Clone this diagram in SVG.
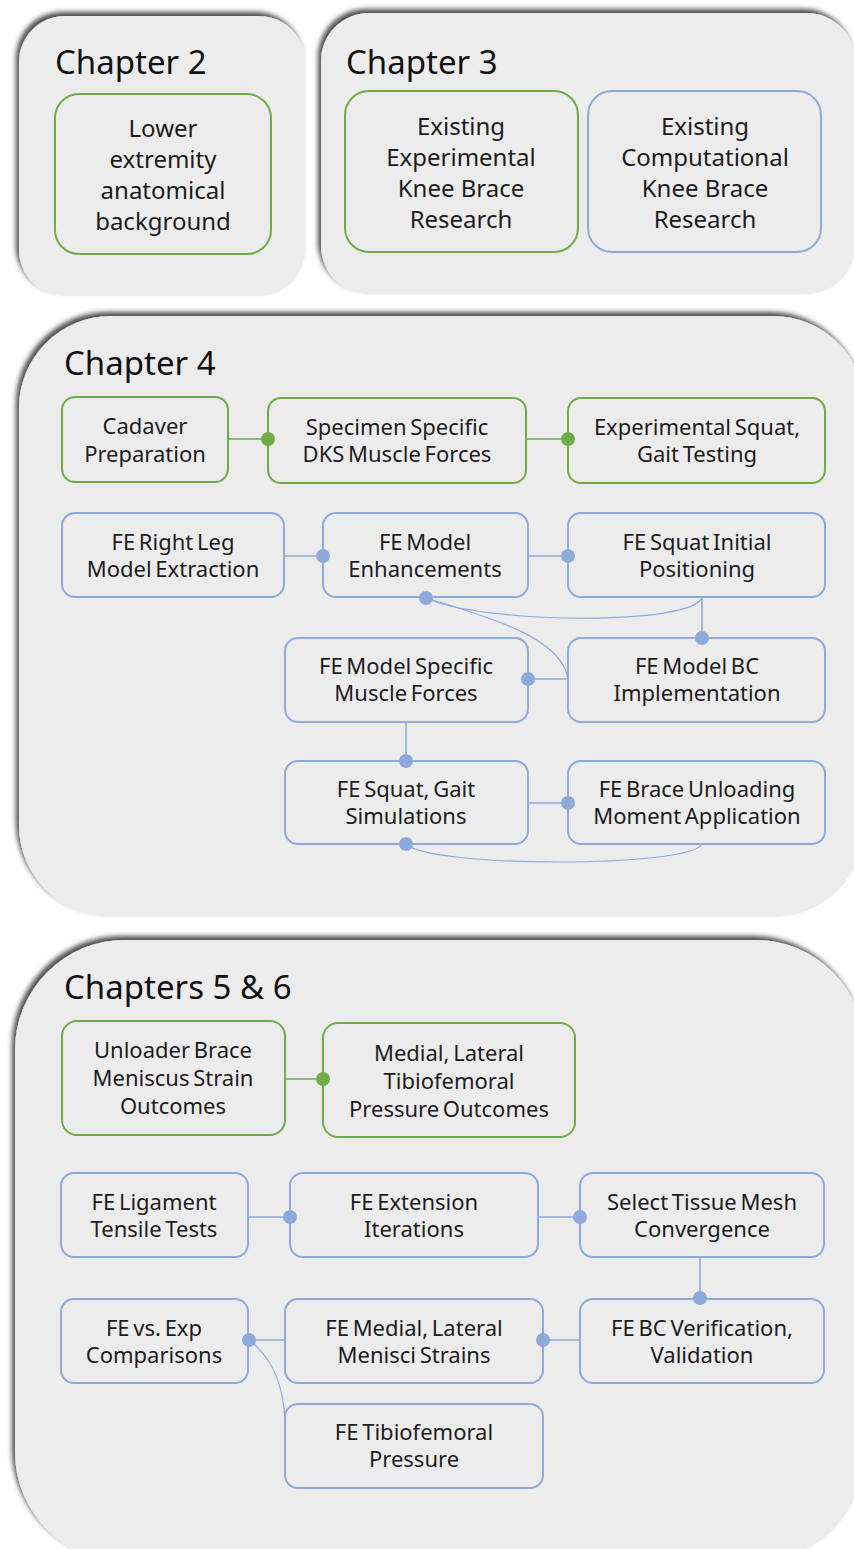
<svg xmlns="http://www.w3.org/2000/svg" width="854" height="1549" viewBox="0 0 854 1549">
<defs>
<filter id="sh" x="-10%" y="-10%" width="120%" height="120%">
<feGaussianBlur in="SourceAlpha" stdDeviation="2.5"/>
<feOffset dx="-3" dy="-4" result="b"/>
<feFlood flood-color="#000" flood-opacity="0.7"/>
<feComposite in2="b" operator="in"/>
<feMerge><feMergeNode/><feMergeNode in="SourceGraphic"/></feMerge>
</filter>
</defs>
<style>
.panel{fill:#ececec;filter:url(#sh)}
.title{font-family:"Noto Sans","Liberation Sans",sans-serif;font-size:33px;fill:#111}
.g{fill:none;stroke:#70ad47;stroke-width:2}
.b{fill:none;stroke:#8eaadb;stroke-width:2}
.t{font-family:"Noto Sans","Liberation Sans",sans-serif;font-size:22px;fill:#1c1c1c;text-anchor:middle;word-spacing:-2px}
.tl{font-family:"Noto Sans","Liberation Sans",sans-serif;font-size:24px;fill:#1c1c1c;text-anchor:middle}
.gl{stroke:#70ad47;stroke-width:1.6;fill:none}
.bl{stroke:#8eaadb;stroke-width:1.6;fill:none}
.bc{stroke:#8eaadb;stroke-width:1.2;fill:none}
.gd{fill:#70ad47}
.bd{fill:#8eaadb}
</style>

<g id="panels">
<rect class="panel" x="19" y="16" width="286" height="280" rx="46"/>
<rect class="panel" x="321" y="13" width="534" height="281" rx="48"/>
<rect class="panel" x="19" y="316" width="846" height="601" rx="92"/>
<rect class="panel" x="15" y="940" width="850" height="622" rx="110"/>
<text class="title" x="55" y="74">Chapter 2</text>
<text class="title" x="346" y="74">Chapter 3</text>
<text class="title" x="64" y="375">Chapter 4</text>
<text class="title" x="64" y="999">Chapters 5 &amp; 6</text>
</g>

<g id="connectors">
<line class="gl" x1="228" y1="439" x2="268" y2="439"/><circle class="gd" cx="268" cy="439" r="7"/>
<line class="gl" x1="526" y1="439" x2="568" y2="439"/><circle class="gd" cx="568" cy="439" r="7"/>
<line class="bl" x1="284" y1="556" x2="323" y2="556"/><circle class="bd" cx="323" cy="556" r="7"/>
<line class="bl" x1="528" y1="556" x2="568" y2="556"/><circle class="bd" cx="568" cy="556" r="7"/>
<path class="bc" d="M426,598 C480,624 695,626 702,597"/>
<path class="bc" d="M426,598 C500,620 562,640 568,679"/>
<circle class="bd" cx="426" cy="598" r="7"/>
<line class="bl" x1="702" y1="597" x2="702" y2="638"/><circle class="bd" cx="702" cy="638" r="7"/>
<line class="bl" x1="568" y1="679" x2="528" y2="679"/><circle class="bd" cx="528" cy="679" r="7"/>
<line class="bl" x1="406" y1="722" x2="406" y2="761"/><circle class="bd" cx="406" cy="761" r="7"/>
<line class="bl" x1="528" y1="803" x2="568" y2="803"/><circle class="bd" cx="568" cy="803" r="7"/>
<path class="bc" d="M406,844 C430,868 690,868 702,844"/>
<circle class="bd" cx="406" cy="844" r="7"/>

<line class="gl" x1="285" y1="1079" x2="323" y2="1079"/><circle class="gd" cx="323" cy="1079" r="7"/>
<line class="bl" x1="248" y1="1217" x2="290" y2="1217"/><circle class="bd" cx="290" cy="1217" r="7"/>
<line class="bl" x1="538" y1="1217" x2="580" y2="1217"/><circle class="bd" cx="580" cy="1217" r="7"/>
<line class="bl" x1="700" y1="1257" x2="700" y2="1298"/><circle class="bd" cx="700" cy="1298" r="7"/>
<line class="bl" x1="580" y1="1340" x2="543" y2="1340"/><circle class="bd" cx="543" cy="1340" r="7"/>
<line class="bl" x1="285" y1="1340" x2="249" y2="1340"/>
<path class="bc" d="M249,1340 C270,1356 283,1380 285,1420"/>
<circle class="bd" cx="249" cy="1340" r="7"/>
</g>

<g id="n-lower">
<rect class="g" x="55" y="94" width="216" height="160" rx="24"/>
<text class="tl" x="163" y="137">Lower</text>
<text class="tl" x="163" y="168">extremity</text>
<text class="tl" x="163" y="199">anatomical</text>
<text class="tl" x="163" y="230">background</text>
</g>
<g id="n-exp">
<rect class="g" x="345" y="91" width="233" height="161" rx="24"/>
<text class="tl" x="461" y="135">Existing</text>
<text class="tl" x="461" y="166">Experimental</text>
<text class="tl" x="461" y="197">Knee Brace</text>
<text class="tl" x="461" y="228">Research</text>
</g>
<g id="n-comp">
<rect class="b" x="588" y="91" width="233" height="161" rx="24"/>
<text class="tl" x="705" y="135">Existing</text>
<text class="tl" x="705" y="166">Computational</text>
<text class="tl" x="705" y="197">Knee Brace</text>
<text class="tl" x="705" y="228">Research</text>
</g>

<g id="n-cadaver">
<rect class="g" x="62" y="397" width="166" height="85" rx="13"/>
<text class="t" x="145" y="434">Cadaver</text>
<text class="t" x="145" y="462">Preparation</text>
</g>
<g id="n-dks">
<rect class="g" x="268" y="398" width="258" height="85" rx="13"/>
<text class="t" x="397" y="435">Specimen Specific</text>
<text class="t" x="397" y="462">DKS Muscle Forces</text>
</g>
<g id="n-squat-test">
<rect class="g" x="568" y="398" width="257" height="85" rx="13"/>
<text class="t" x="697" y="435">Experimental Squat,</text>
<text class="t" x="697" y="462">Gait Testing</text>
</g>
<g id="n-rightleg">
<rect class="b" x="62" y="513" width="222" height="84" rx="13"/>
<text class="t" x="173" y="550">FE Right Leg</text>
<text class="t" x="173" y="577">Model Extraction</text>
</g>
<g id="n-enh">
<rect class="b" x="323" y="513" width="205" height="84" rx="13"/>
<text class="t" x="425" y="550">FE Model</text>
<text class="t" x="425" y="577">Enhancements</text>
</g>
<g id="n-pos">
<rect class="b" x="568" y="513" width="257" height="84" rx="13"/>
<text class="t" x="697" y="550">FE Squat Initial</text>
<text class="t" x="697" y="577">Positioning</text>
</g>
<g id="n-muscle">
<rect class="b" x="285" y="638" width="243" height="84" rx="13"/>
<text class="t" x="406" y="674">FE Model Specific</text>
<text class="t" x="406" y="701">Muscle Forces</text>
</g>
<g id="n-bc">
<rect class="b" x="568" y="638" width="257" height="84" rx="13"/>
<text class="t" x="697" y="674">FE Model BC</text>
<text class="t" x="697" y="701">Implementation</text>
</g>
<g id="n-sim">
<rect class="b" x="285" y="761" width="243" height="83" rx="13"/>
<text class="t" x="406" y="797">FE Squat, Gait</text>
<text class="t" x="406" y="824">Simulations</text>
</g>
<g id="n-brace">
<rect class="b" x="568" y="761" width="257" height="83" rx="13"/>
<text class="t" x="697" y="797">FE Brace Unloading</text>
<text class="t" x="697" y="824">Moment Application</text>
</g>

<g id="n-unloader">
<rect class="g" x="62" y="1021" width="223" height="114" rx="15"/>
<text class="t" x="173" y="1058">Unloader Brace</text>
<text class="t" x="173" y="1086">Meniscus Strain</text>
<text class="t" x="173" y="1114">Outcomes</text>
</g>
<g id="n-medial">
<rect class="g" x="323" y="1023" width="252" height="114" rx="15"/>
<text class="t" x="449" y="1061">Medial, Lateral</text>
<text class="t" x="449" y="1089">Tibiofemoral</text>
<text class="t" x="449" y="1117">Pressure Outcomes</text>
</g>
<g id="n-lig">
<rect class="b" x="61" y="1173" width="187" height="84" rx="13"/>
<text class="t" x="154" y="1210">FE Ligament</text>
<text class="t" x="154" y="1237">Tensile Tests</text>
</g>
<g id="n-ext">
<rect class="b" x="290" y="1173" width="248" height="84" rx="13"/>
<text class="t" x="414" y="1210">FE Extension</text>
<text class="t" x="414" y="1237">Iterations</text>
</g>
<g id="n-mesh">
<rect class="b" x="580" y="1173" width="244" height="84" rx="13"/>
<text class="t" x="702" y="1210">Select Tissue Mesh</text>
<text class="t" x="702" y="1237">Convergence</text>
</g>
<g id="n-cmp">
<rect class="b" x="61" y="1299" width="187" height="84" rx="13"/>
<text class="t" x="154" y="1336">FE vs. Exp</text>
<text class="t" x="154" y="1363">Comparisons</text>
</g>
<g id="n-menisci">
<rect class="b" x="285" y="1299" width="258" height="84" rx="13"/>
<text class="t" x="414" y="1336">FE Medial, Lateral</text>
<text class="t" x="414" y="1363">Menisci Strains</text>
</g>
<g id="n-bcv">
<rect class="b" x="580" y="1299" width="244" height="84" rx="13"/>
<text class="t" x="702" y="1336">FE BC Verification,</text>
<text class="t" x="702" y="1363">Validation</text>
</g>
<g id="n-press">
<rect class="b" x="285" y="1404" width="258" height="84" rx="13"/>
<text class="t" x="414" y="1440">FE Tibiofemoral</text>
<text class="t" x="414" y="1467">Pressure</text>
</g>
</svg>
